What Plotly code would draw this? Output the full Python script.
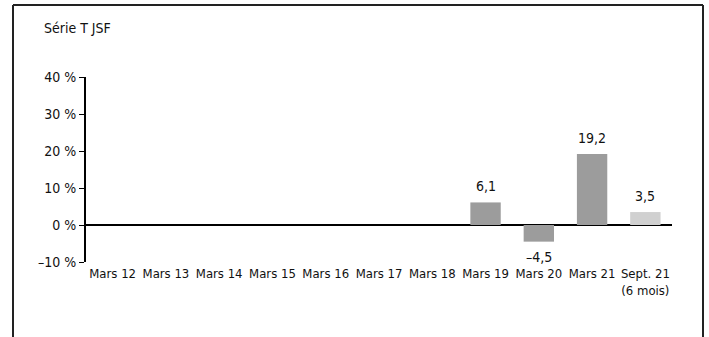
import plotly.graph_objects as go

categories = ["Mars 12", "Mars 13", "Mars 14", "Mars 15", "Mars 16", "Mars 17",
              "Mars 18", "Mars 19", "Mars 20", "Mars 21", "Sept. 21<br>(6 mois)"]
values = [None, None, None, None, None, None, None, 6.1, -4.5, 19.2, 3.5]
value_labels = ["", "", "", "", "", "", "", "6,1", "–4,5", "19,2", "3,5"]
bar_colors = ["#9c9c9c"] * 10 + ["#d0d0d0"]
y_tickvals = [-10, 0, 10, 20, 30, 40]
y_ticktext = ["–10 %", "0 %", "10 %", "20 %", "30 %", "40 %"]
title_text = "Série T JSF"

FONT = "DejaVu Sans Condensed, Liberation Sans Narrow, sans-serif"

fig = go.Figure()
fig.add_trace(go.Bar(
    x=categories, y=values, marker=dict(color=bar_colors, line=dict(width=0)),
    hoverinfo="skip", showlegend=False,
))

for c, v, t in zip(categories, values, value_labels):
    if v is None:
        continue
    fig.add_annotation(
        x=c, y=v, text=t, showarrow=False,
        yanchor="bottom" if v >= 0 else "top",
        yshift=6 if v >= 0 else -5,
        font=dict(family=FONT, size=14, color="#111111"),
    )

W, H = 709, 337
ml, mr, mt, mb = 86, 37, 77, 75
fig.update_layout(
    width=W, height=H,
    margin=dict(l=ml, r=mr, t=mt, b=mb, pad=0),
    plot_bgcolor="white", paper_bgcolor="white",
    bargap=0.43,
    font=dict(family=FONT, size=14, color="#111111"),
    xaxis=dict(
        type="category", showgrid=False, showline=False, ticks="",
        tickangle=0, ticklabelstandoff=2,
        tickfont=dict(family=FONT, size=13, color="#111111"),
        range=[-0.5, len(categories) - 0.5],
    ),
    yaxis=dict(
        range=[-10, 40], tickvals=y_tickvals, ticktext=y_ticktext,
        showgrid=False, showline=True, linecolor="black", linewidth=2,
        ticks="outside", ticklen=5, tickwidth=1, tickcolor="black",
        zeroline=True, zerolinecolor="black", zerolinewidth=2,
        tickfont=dict(family=FONT, size=14, color="#111111"),
    ),
)

fig.add_annotation(
    xref="paper", yref="paper",
    x=(42 - ml) / (W - ml - mr), y=1 + (mt - 28) / (H - mt - mb),
    xanchor="left", yanchor="middle", text=title_text, showarrow=False,
    font=dict(family=FONT, size=14, color="#111111"),
)

# frame (top, left, right) in pixel-derived paper coords
pw, ph = W - ml - mr, H - mt - mb
def px(x):
    return (x - ml) / pw
def py(y):
    return 1 - (y - mt) / ph
frame = dict(color="#222222", width=2)
fig.add_shape(type="line", xref="paper", yref="paper", x0=px(13), x1=px(703), y0=py(5), y1=py(5), line=frame)
fig.add_shape(type="line", xref="paper", yref="paper", x0=px(13), x1=px(13), y0=py(5), y1=py(340), line=frame)
fig.add_shape(type="line", xref="paper", yref="paper", x0=px(703), x1=px(703), y0=py(5), y1=py(340), line=frame)

fig.write_html("out.html")
